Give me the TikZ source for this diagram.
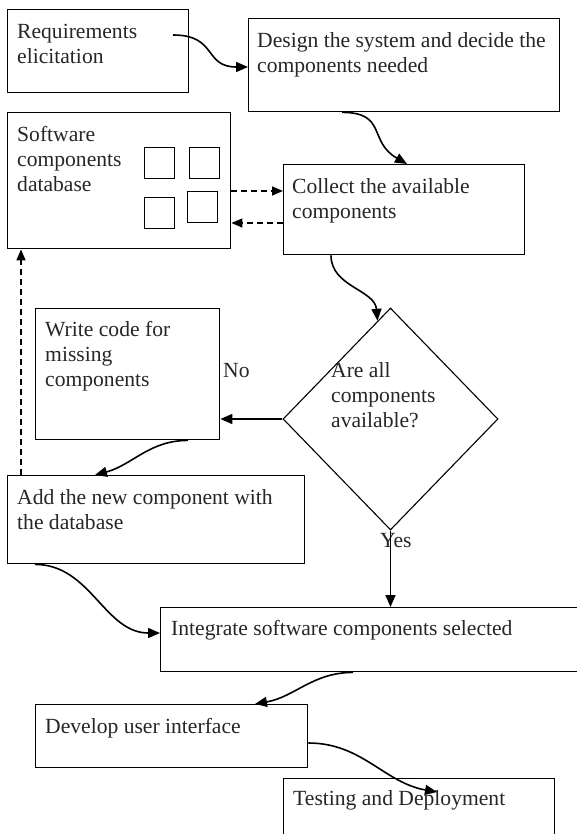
\documentclass[tikz,border=0pt]{standalone}
\usepackage{fontspec}
\setmainfont{Liberation Serif}
\usetikzlibrary{positioning,calc,shapes.geometric,arrows.meta}
\newcommand{\boxfont}{\fontsize{21.6}{25}\selectfont}

\begin{document}
\begin{tikzpicture}[x=1pt, y=-1pt,
        stepbox/.style={rectangle, draw=black, line width=1.4pt, anchor=north west, inner sep=0pt},
        smallbox/.style={rectangle, draw=black, line width=1.4pt, anchor=north west, inner sep=0pt, minimum width=30pt, minimum height=31pt},
        decision/.style={diamond, draw=black, line width=1.1pt, inner sep=0pt, minimum width=215pt, minimum height=222pt},
        boxtext/.style={anchor=north west, inner sep=0pt, align=left, font=\boxfont, text=black!85},
        flow/.style={line width=1.6pt, -{Triangle[length=12pt,width=10pt]}},
        dashflow/.style={line width=1.6pt, dash pattern=on 6pt off 4pt, -{Triangle[length=11pt,width=9pt]}},
    ]
    \clip (0,0) rectangle (577,834);

    % Nodes
    \node[stepbox, minimum width=181pt, minimum height=83pt] (req) at (7,9) {};
    \node[stepbox, minimum width=311pt, minimum height=93pt] (design) at (248,18) {};
    \node[stepbox, minimum width=223pt, minimum height=136pt] (db) at (7,112) {};
    \node[stepbox, minimum width=241pt, minimum height=90pt] (collect) at (283,164) {};
    \node[stepbox, minimum width=184pt, minimum height=131pt] (write) at (35,308) {};
    \node[decision] (avail) at (390.5,419) {};
    \node[stepbox, minimum width=297pt, minimum height=88pt] (add) at (7,475) {};
    \node[stepbox, minimum width=440pt, minimum height=64pt] (integ) at (160,607) {};
    \node[stepbox, minimum width=272pt, minimum height=63pt] (devel) at (35,704) {};
    \node[stepbox, minimum width=271pt, minimum height=90pt] (test) at (283,778) {};

    % the four component squares
    \node[smallbox] (sq1) at (144,147) {};
    \node[smallbox] (sq2) at (189,147) {};
    \node[smallbox] (sq3) at (144,197) {};
    \node[smallbox] (sq4) at (187,191) {};

    % Texts
    \node[boxtext] (reqtxt) at ($(req.north west)+(10,11.5)$) {\strut Requirements\\elicitation};
    \node[boxtext] (designtxt) at ($(design.north west)+(9,11.5)$) {\strut Design the system and decide the\\components needed};
    \node[boxtext] (dbtxt) at ($(db.north west)+(10,12)$) {\strut Software\\components\\database};
    \node[boxtext] (collecttxt) at ($(collect.north west)+(9,11.5)$) {\strut Collect the available\\components};
    \node[boxtext] (writetxt) at ($(write.north west)+(10,11)$) {\strut Write code for\\missing\\components};
    \node[boxtext] (availtxt) at (331,359.5) {\strut Are all\\components\\available?};
    \node[boxtext] (addtxt) at ($(add.north west)+(10,12)$) {\strut Add the new component with\\the database};
    \node[boxtext] (integtxt) at ($(integ.north west)+(11,11)$) {\strut Integrate software components selected};
    \node[boxtext] (develtxt) at ($(devel.north west)+(10,11.5)$) {\strut Develop user interface};
    \node[boxtext] (testtxt) at ($(test.north west)+(10,10)$) {\strut Testing and Deployment};

    \node[boxtext, anchor=base west] (no) at (223,377) {No};
    \node[boxtext, anchor=base west] (yes) at (380,547) {Yes};

    \coordinate (reqout) at (173,35);

    % Edges
    \draw[flow] (reqout) to[out=0, in=180, looseness=1.4] ($(design.north west)+(0,49)$);
    \draw[flow] ($(design.south west)+(94,0)$) to[out=0, in=150, looseness=1.4] ($(collect.north west)+(124,0)$);
    \draw[flow] ($(collect.south west)+(48,0)$) to[out=-90, in=95] ($(avail.north)!0.12!(avail.west)$);
    \draw[flow] (avail.west) -- (avail.west -| write.east);
    \draw[flow] ($(write.south west)+(153,0)$) to[out=180, in=15] ($(add.north west)+(88,0)$);
    \draw[flow] ($(add.south west)+(28,0)$) to[out=0, in=180] ($(integ.north west)+(0,26)$);
    \draw[flow] (avail.south) -- (avail.south |- integ.north);
    \draw[flow] ($(integ.south west)+(193,0)$) to[out=180, in=10] ($(devel.north west)+(220,0)$);
    \draw[flow] ($(devel.north east)+(0,39)$) to[out=0, in=170] ($(test.north west)+(154,14)$);

    \draw[dashflow] ($(db.north east)+(0,79)$) -- ($(collect.north west)+(0,27)$);
    \draw[dashflow] ($(collect.north west)+(0,59)$) -- ($(db.north east)+(0,111)$);
    \draw[dashflow] ($(add.north west)+(14,0)$) -- ($(db.south west)+(14,0)$);
\end{tikzpicture}
\end{document}
